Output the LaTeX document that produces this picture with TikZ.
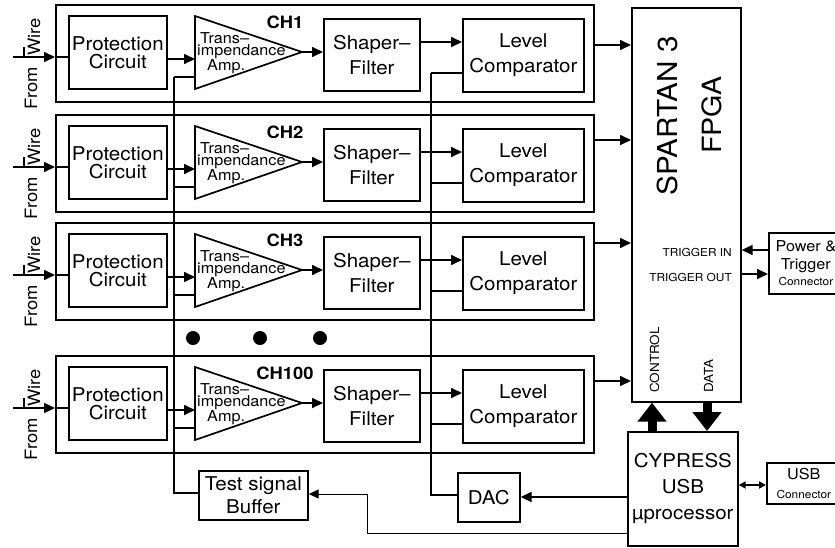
\documentclass[tikz,border=0pt]{standalone}
\usepackage{fontspec}
\setmainfont{TeX Gyre Heros}[FakeStretch=1.08]
\usetikzlibrary{arrows.meta,calc}
\begin{document}
\begin{tikzpicture}[x=1pt,y=-1pt,
  ln/.style={line width=1.7pt},
  thinln/.style={line width=1pt},
  blk/.style={draw,line width=1.7pt,inner sep=0pt,rectangle,anchor=north west,align=center},
  arr/.style={line width=1.7pt,-{Triangle[length=11pt,width=10pt]}},
  tarr/.style={line width=1pt,-{Triangle[length=10pt,width=9pt]}},
  bigarr/.style={line width=9pt,-{Triangle[length=19pt,width=28pt]}},
  ft/.style={font=\fontsize{19}{25}\selectfont},
  lab/.style={font=\fontsize{17}{20}\selectfont\bfseries,inner sep=0pt},
  tri/.style={font=\fontsize{15}{11}\selectfont,inner sep=0pt,align=left,anchor=west},
  dotst/.style={circle,fill,minimum size=14pt,inner sep=0pt},
]
\useasboundingbox (0,0) rectangle (835,547);
\clip (0,0) rectangle (835,547);

% FPGA
\node[blk,minimum width=109pt,minimum height=394pt] (fpga) at (631,7) {};
\node[rotate=90,anchor=base,font=\fontsize{27.5}{30}\selectfont,inner sep=0pt] (sp) at (677,116) {SPARTAN 3};
\node[rotate=90,anchor=base,font=\fontsize{26.5}{30}\selectfont,inner sep=0pt] (fp) at (721,115) {FPGA};
\node[anchor=base east,font=\fontsize{11}{13}\selectfont,inner sep=0pt] (tin) at (732,256) {TRIGGER IN};
\node[anchor=base east,font=\fontsize{11}{13}\selectfont,inner sep=0pt] (tout) at (732,281) {TRIGGER OUT};
\node[rotate=90,anchor=base west,font=\fontsize{12.5}{14}\selectfont,inner sep=0pt] (ctl) at (659,393) {CONTROL};
\node[rotate=90,anchor=base west,font=\fontsize{12.5}{14}\selectfont,inner sep=0pt] (dat) at (713,393) {DATA};

% Power & Trigger connector
\node[blk,minimum width=74pt,minimum height=61pt,font=\fontsize{15}{18}\selectfont] (pwr) at (768,232) {Power \&\\Trigger\\[-2pt]{\fontsize{11}{13}\selectfont Connector}};
\draw[arr] (pwr.west |- 0,250) -- (fpga.east |- 0,250);
\draw[arr] (fpga.east |- 0,274) -- (pwr.west |- 0,274);

% Cypress
\node[blk,minimum width=110pt,minimum height=114pt,font=\fontsize{19}{26}\selectfont] (cyp) at (627,431) {CYPRESS\\USB\\µprocessor};
\node[blk,minimum width=74pt,minimum height=41pt,font=\fontsize{15}{19}\selectfont] (usb) at (766,462) {USB\\{\fontsize{11}{13}\selectfont Connector}};
\draw[line width=1.7pt,{Triangle[length=7pt,width=7pt]}-{Triangle[length=7pt,width=7pt]}] (cyp.east |- 0,485) -- (usb.west |- 0,485);
\draw[bigarr] (cyp.north -| 652,0) -- (fpga.south -| 652,0);
\draw[bigarr] (fpga.south -| 707,0) -- (cyp.north -| 707,0);

% DAC and test buffer
\node[blk,minimum width=62pt,minimum height=49pt,ft] (dac) at (457,472) {DAC};
\node[blk,minimum width=109pt,minimum height=49pt,font=\fontsize{19}{23}\selectfont] (buf) at (198,470) {Test signal\\Buffer};
\draw[arr] (cyp.west |- 0,497) -- (dac.east |- 0,497);
\draw[tarr] (cyp.west |- 0,533) -| (367,494) -- (buf.east |- 0,494);

% buses
\coordinate (biastop) at (174,77);
\coordinate (thrtop) at (431,73);
\draw[ln] (buf.west |- 0,493) -| (biastop);
\draw[ln] (dac.west |- 0,495) -| (thrtop);

% channels
\foreach \i/\lb/\yo/\yout in {1/CH1/0/45, 2/CH2/110/140, 3/CH3/218/243, 4/CH100/351/381}{
  \node[blk,minimum width=538pt,minimum height=97pt] (ch\i) at (55,4+\yo) {};
  \node[blk,minimum width=98pt,minimum height=73pt,font=\fontsize{19}{18}\selectfont] (prot\i) at (68,15+\yo) {Protection\\Circuit};
  \node[blk,minimum width=96pt,minimum height=72pt,ft] (shp\i) at (323,18+\yo) {Shaper–\\Filter};
  \node[blk,minimum width=121pt,minimum height=73pt,ft] (cmp\i) at (462,18+\yo) {Level\\Comparator};
  \draw[ln] (195,16+\yo) -- (302,52+\yo) -- (195,89+\yo) -- cycle;
  \coordinate (tl\i) at (195,52+\yo);
  \coordinate (tip\i) at (302,52+\yo);
  \node[tri] (tt\i) at (197,53+\yo) {\hspace*{3pt}Trans–\\impendance\\\hspace*{10pt}Amp.};
  \node[lab] (lab\i) at (285,22+\yo) {\lb};
  \coordinate (in\i) at (13,57+\yo);
  \draw[arr] (in\i) -- (ch\i.west |- in\i);
  \draw[ln] (ch\i.west |- in\i) -- (prot\i.west |- in\i);
  \node[rotate=90,anchor=base,font=\fontsize{17}{20}\selectfont,inner sep=0pt] (wire\i) at (40,37+\yo) {Wire};
  \node[rotate=90,anchor=base,font=\fontsize{17}{20}\selectfont,inner sep=0pt] (from\i) at (37,88+\yo) {From};
  \draw[line width=1.1pt] (24,47+\yo) -- (in\i -| 24,0);
  \draw[arr] (prot\i.east |- 0,59+\yo) -- (tl\i |- 0,59+\yo);
  \draw[arr] (tip\i) -- (shp\i.west |- tip\i);
  \draw[arr] (shp\i.east |- 0,42+\yo) -- (cmp\i.west |- 0,42+\yo);
  \draw[ln] (174,77+\yo) -- (tl\i |- 0,77+\yo);
  \draw[ln] (431,73+\yo) -- (cmp\i.west |- 0,73+\yo);
  \draw[arr] (ch\i.east |- 0,\yout) -- (fpga.west |- 0,\yout);
}

% dots
\node[dotst] (d1) at (193,338) {};
\node[dotst] (d2) at (260,338) {};
\node[dotst] (d3) at (320,338) {};
\end{tikzpicture}
\end{document}
